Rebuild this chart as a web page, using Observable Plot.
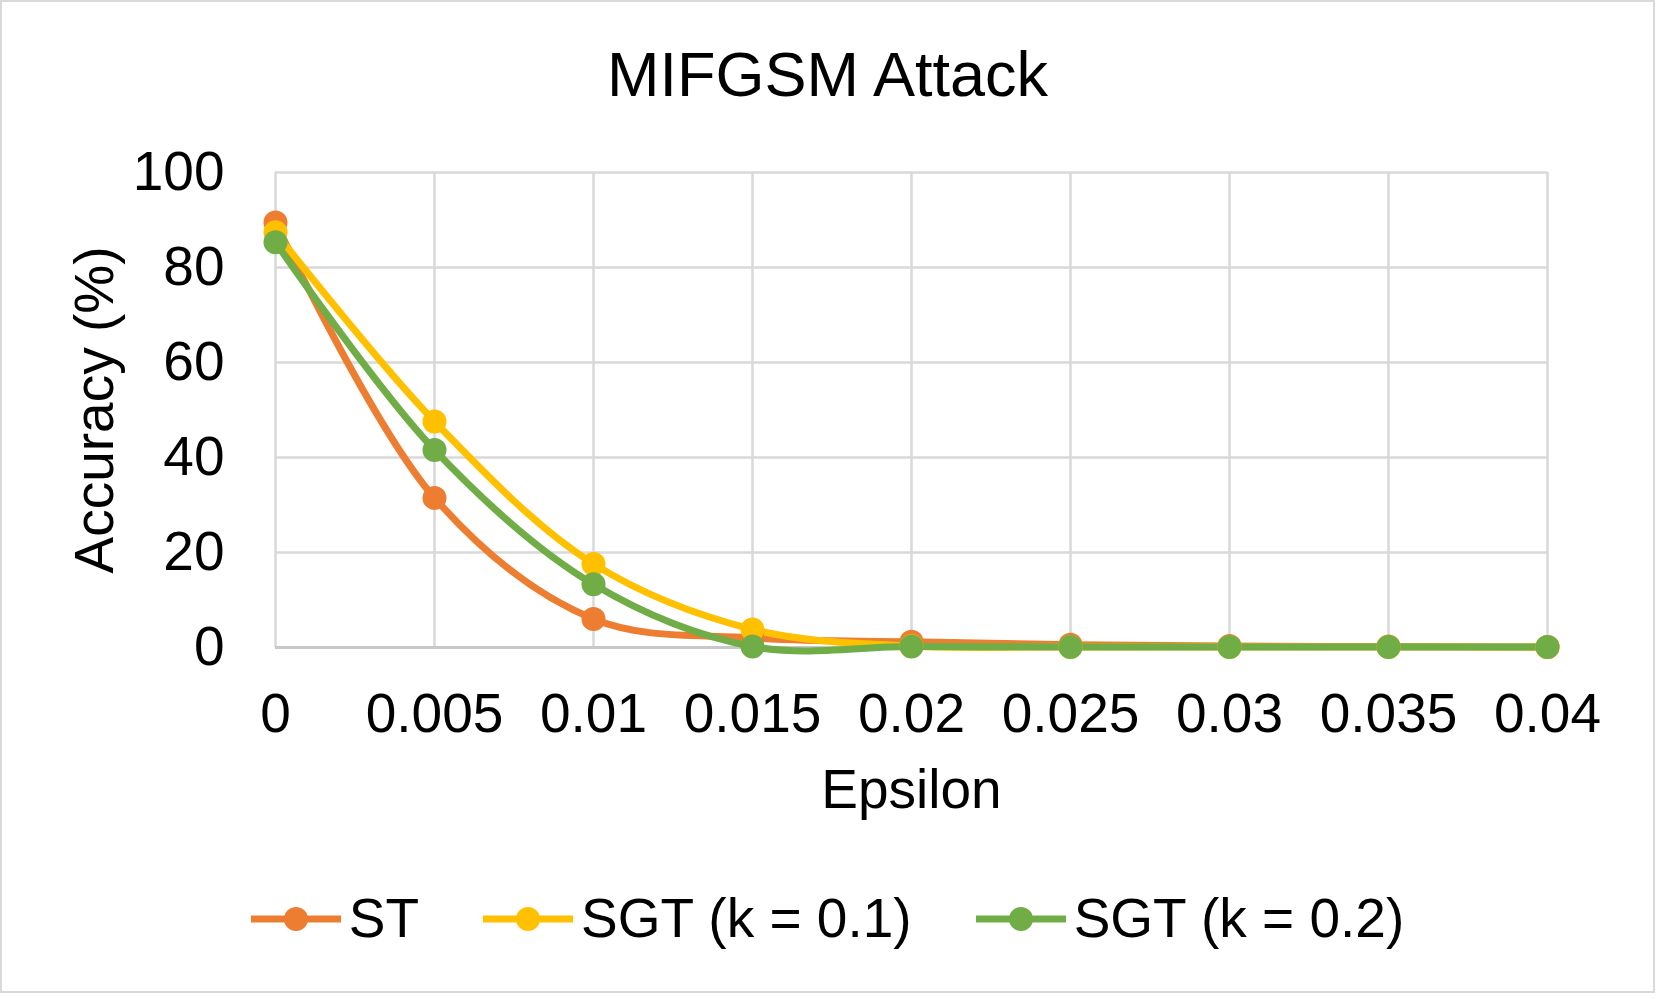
<!DOCTYPE html>
<html>
<head>
<meta charset="utf-8">
<script src="https://cdn.jsdelivr.net/npm/d3@7"></script>
<script src="https://cdn.jsdelivr.net/npm/@observablehq/plot@0.6"></script>
<style>
  html, body { margin: 0; padding: 0; background: #fff; }
  body { font-family: "Liberation Sans", Arial, sans-serif; color: #000; }
  #chart { width: 1655px; height: 993px; box-sizing: border-box; border: 2px solid #d9d9d9; background: #fff; }
  #title { font-size: 63px; line-height: 1; padding-top: 41px; padding-bottom: 14px; text-align: center; height: 63px; }
  #legend { margin-top: 51px; display: flex; justify-content: center; align-items: center; gap: 64px; font-size: 55px; line-height: 1; }
  .item { display: flex; align-items: center; }
  .item span { margin-left: 8px; }
  svg { display: block; }
</style>
</head>
<body>
<div id="chart">
  <div id="title">MIFGSM Attack</div>
  <div id="plot"></div>
  <div id="legend"></div>
</div>
<script>
const epsilon = [0, 0.005, 0.01, 0.015, 0.02, 0.025, 0.03, 0.035, 0.04];
const st      = [89.5, 31.5, 6.0, 2.0, 1.2, 0.6, 0.3, 0.2, 0.1];
const sgt01   = [87.4, 47.6, 17.6, 3.8, 0.3, 0.1, 0.1, 0.1, 0.1];
const sgt02   = [85.3, 41.6, 13.3, 0.2, 0.2, 0.1, 0.1, 0.1, 0.1];
const seriesNames = ["ST", "SGT (k = 0.1)", "SGT (k = 0.2)"];
const seriesColors = ["#ED7D31", "#FFC000", "#70AD47"];
const yTicks = [0, 20, 40, 60, 80, 100];
const seriesValues = [st, sgt01, sgt02];

const data = seriesNames.flatMap((name, i) =>
  epsilon.map((e, j) => ({series: name, epsilon: e, acc: seriesValues[i][j]})));

const plot = Plot.plot({
  width: 1651,
  height: 720,
  marginLeft: 273,
  marginRight: 106,
  marginTop: 52,
  marginBottom: 193,
  style: {fontFamily: "'Liberation Sans', Arial, sans-serif", fontSize: "55px", color: "#000", background: "#fff"},
  x: {domain: [0, 0.04], ticks: epsilon, label: null},
  y: {domain: [0, 100], ticks: yTicks, label: null},
  color: {domain: seriesNames, range: seriesColors},
  marks: [
    Plot.gridX(epsilon, {stroke: "#d9d9d9", strokeOpacity: 1, strokeWidth: 2.5}),
    Plot.gridY(yTicks, {stroke: "#d9d9d9", strokeOpacity: 1, strokeWidth: 2.5}),
    Plot.ruleY([0], {stroke: "#c8c8c8", strokeWidth: 3}),
    Plot.axisX(epsilon, {tickSize: 0, tickPadding: 45, fontSize: 55, tickFormat: d => String(+d.toFixed(3)), label: null}),
    Plot.axisY(yTicks, {tickSize: 0, tickPadding: 51, fontSize: 55, label: null}),
    Plot.text(["Epsilon"], {frameAnchor: "bottom", dy: 143, fontSize: 55, fill: "#000", lineAnchor: "middle", textAnchor: "middle"}),
    Plot.text(["Accuracy (%)"], {frameAnchor: "left", dx: -180, rotate: -90, fontSize: 55, fill: "#000", lineAnchor: "middle", textAnchor: "middle"}),
    ...seriesNames.map((name, i) => Plot.line(data.filter(d => d.series === name), {
      x: "epsilon", y: "acc", stroke: seriesColors[i], strokeWidth: 7, curve: "catmull-rom"
    })),
    ...seriesNames.map((name, i) => Plot.dot(data.filter(d => d.series === name), {
      x: "epsilon", y: "acc", fill: seriesColors[i], r: 12
    }))
  ]
});
document.getElementById("plot").appendChild(plot);

const legend = d3.select("#legend");
seriesNames.forEach((name, i) => {
  const item = legend.append("div").attr("class", "item");
  const sw = item.append("svg").attr("width", 90).attr("height", 30);
  sw.append("line").attr("x1", 0).attr("x2", 90).attr("y1", 15).attr("y2", 15)
    .attr("stroke", seriesColors[i]).attr("stroke-width", 7);
  sw.append("circle").attr("cx", 45).attr("cy", 15).attr("r", 12).attr("fill", seriesColors[i]);
  item.append("span").text(name);
});
</script>
</body>
</html>
